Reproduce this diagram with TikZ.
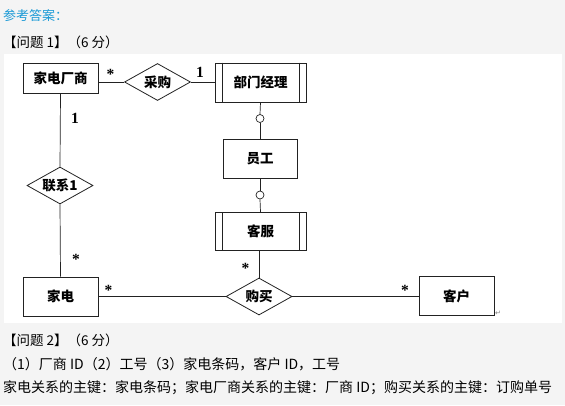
\documentclass[tikz,border=0pt]{standalone}
\usepackage{fontspec}
\setmainfont{Liberation Serif}
\newfontfamily\cjk{Noto Sans CJK SC}
\newfontfamily\symfont{DejaVu Sans}
\usetikzlibrary{shapes.geometric}
\definecolor{bg}{HTML}{F4F4F4}
\definecolor{ans}{HTML}{1B9AD6}
\definecolor{ln}{HTML}{222222}
\tikzset{
  ent/.style={draw=ln, line width=0.8pt, fill=white, minimum width=75pt, minimum height=39pt, inner sep=0pt, font=\cjk\bfseries\fontsize{13.5}{13.5}\selectfont},
  rel/.style={diamond, draw=ln, line width=0.8pt, fill=white, minimum width=66pt, minimum height=37pt, inner sep=0pt, aspect=1.8, font=\cjk\bfseries\fontsize{13.5}{13.5}\selectfont},
  ring/.style={circle, draw=ln, line width=0.7pt, fill=white, minimum size=8pt, inner sep=0pt},
  conn/.style={draw=ln, line width=0.7pt},
  card/.style={inner sep=0pt, font=\bfseries\fontsize{15.5}{15.5}\selectfont},
  body/.style={anchor=west, inner sep=0pt, font=\cjk\fontsize{14}{14}\selectfont}
}
\begin{document}
\begin{tikzpicture}[x=1pt,y=-1pt]
\useasboundingbox (0,0) rectangle (565,405);
\fill[bg] (0,0) rectangle (565,405);
\fill[white] (4,54) rectangle (562,323);

% header texts
\node[body, text=ans, font=\cjk\fontsize{13}{13}\selectfont] (t0) at (3,16) {参考答案：};
\node[body, font=\cjk\fontsize{13.5}{13.5}\selectfont] (t1) at (3,42) {【问题 1】（6 分）};

% entities and relations
\node[ent, minimum height=30pt] (jdcs) at (60.5,78) {家电厂商};
\node[rel] (cg) at (157.5,82) {采购};
\node[ent, minimum width=91pt] (bm) at (260.5,82.5) {部门经理};
\node[ent, minimum width=74pt] (yg) at (260,158.5) {员工};
\node[ent, minimum width=91pt, minimum height=38pt] (kf) at (260.5,231.5) {客服};
\node[rel] (lx) at (60,185.5) {联系1};
\node[ent] (jd) at (60.5,296.5) {家电};
\node[rel] (gm) at (259,296.5) {购买};
\node[ent] (kh) at (456.5,296) {客户};
\node[ring] (r1) at (260,118.5) {};
\node[ring] (r2) at (260,195) {};

% double side bars of weak entities
\draw[conn] ([xshift=7.5pt]bm.north west) -- ([xshift=7.5pt]bm.south west);
\draw[conn] ([xshift=-7.5pt]bm.north east) -- ([xshift=-7.5pt]bm.south east);
\draw[conn] ([xshift=7.5pt]kf.north west) -- ([xshift=7.5pt]kf.south west);
\draw[conn] ([xshift=-7.5pt]kf.north east) -- ([xshift=-7.5pt]kf.south east);

% connectors
\draw[conn] (cg.west -| jdcs.east) -- (cg.west);
\draw[conn] (cg.east) -- (cg.east -| bm.west);
\draw[conn] (jdcs.south) -- (lx.north);
\draw[conn] (lx.south) -- (jd.north);
\draw[conn] (bm.south) -- (r1.north);
\draw[conn] (r1.south) -- (yg.north);
\draw[conn] (yg.south) -- (r2.north);
\draw[conn] (r2.south) -- (kf.south |- kf.north);
\draw[conn] (kf.south -| gm.north) -- (gm.north);
\draw[conn] (jd.east) -- (jd.east -| gm.west);
\draw[conn] (gm.east) -- (gm.east -| kh.west);

% cardinalities
\node[card] (c1) at (110.5,74) {*};
\node[card] (c2) at (200,72.5) {1};
\node[card] (c3) at (75,118) {1};
\node[card] (c4) at (76,259) {*};
\node[card] (c5) at (108.5,290) {*};
\node[card] (c6) at (245.5,268) {*};
\node[card] (c7) at (405,290) {*};
\node[inner sep=0pt, text=gray, font=\symfont\fontsize{7}{7}\selectfont] (ret) at (498,313) {↵};

% answer texts
\node[body, font=\cjk\fontsize{13.5}{13.5}\selectfont] (t2) at (3,340) {【问题 2】（6 分）};
\node[body] (t3) at (3,364) {（1）厂商 ID（2）工号（3）家电条码，客户 ID，工号};
\node[body] (t4) at (3,388) {家电关系的主键：家电条码；家电厂商关系的主键：厂商 ID；购买关系的主键：订购单号};
\end{tikzpicture}
\end{document}
